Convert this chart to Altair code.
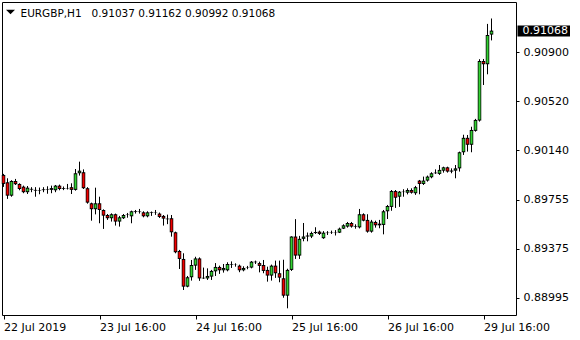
import altair as alt
import pandas as pd

symbol = "EURGBP,H1"
header_values = "0.91037 0.91162 0.90992 0.91068"
last_price = [0.91068]

opens = [0.89948, 0.89891, 0.89787, 0.89901, 0.89878, 0.89857, 0.89814, 0.89834, 0.89832, 0.89826,
         0.89830, 0.89836, 0.89832, 0.89829, 0.89865, 0.89839, 0.89845, 0.89853, 0.89832, 0.89961,
         0.89969, 0.89845, 0.89728, 0.89682, 0.89728, 0.89676, 0.89637, 0.89612, 0.89643, 0.89586,
         0.89612, 0.89637, 0.89627, 0.89666, 0.89660, 0.89658, 0.89627, 0.89658, 0.89653, 0.89648,
         0.89630, 0.89609, 0.89612, 0.89503, 0.89358, 0.89296, 0.89081, 0.89154, 0.89244, 0.89300,
         0.89145, 0.89145, 0.89159, 0.89200, 0.89234, 0.89208, 0.89208, 0.89257, 0.89252, 0.89244,
         0.89208, 0.89226, 0.89229, 0.89275, 0.89264, 0.89249, 0.89211, 0.89167, 0.89244, 0.89185,
         0.89146, 0.89011, 0.89211, 0.89470, 0.89322, 0.89452, 0.89470, 0.89470, 0.89497, 0.89508,
         0.89457, 0.89497, 0.89500, 0.89500, 0.89500, 0.89531, 0.89547, 0.89575, 0.89547, 0.89541,
         0.89643, 0.89599, 0.89508, 0.89583, 0.89557, 0.89560, 0.89666, 0.89700, 0.89823, 0.89779,
         0.89818, 0.89810, 0.89831, 0.89806, 0.89904, 0.89878, 0.89904, 0.89930, 0.89961, 0.89956,
         0.89981, 0.90007, 0.89974, 0.89981, 0.89999, 0.90124, 0.90236, 0.90182, 0.90290, 0.90370,
         0.90832, 0.90807, 0.91037]
highs = [0.89956, 0.89922, 0.89907, 0.89917, 0.89883, 0.89865, 0.89862, 0.89853, 0.89853, 0.89850,
         0.89853, 0.89860, 0.89865, 0.89870, 0.89873, 0.89858, 0.89878, 0.89883, 0.89994, 0.90051,
         0.89991, 0.89853, 0.89733, 0.89849, 0.89779, 0.89681, 0.89645, 0.89650, 0.89648, 0.89630,
         0.89645, 0.89653, 0.89671, 0.89676, 0.89684, 0.89666, 0.89666, 0.89664, 0.89676, 0.89656,
         0.89637, 0.89640, 0.89637, 0.89508, 0.89366, 0.89340, 0.89164, 0.89288, 0.89313, 0.89308,
         0.89229, 0.89223, 0.89211, 0.89264, 0.89244, 0.89257, 0.89270, 0.89277, 0.89262, 0.89252,
         0.89239, 0.89242, 0.89280, 0.89283, 0.89275, 0.89288, 0.89236, 0.89252, 0.89283, 0.89283,
         0.89290, 0.89220, 0.89472, 0.89605, 0.89475, 0.89575, 0.89501, 0.89508, 0.89542, 0.89516,
         0.89512, 0.89512, 0.89516, 0.89520, 0.89539, 0.89565, 0.89583, 0.89583, 0.89565, 0.89684,
         0.89650, 0.89643, 0.89599, 0.89593, 0.89599, 0.89676, 0.89715, 0.89831, 0.89831, 0.89823,
         0.89837, 0.89844, 0.89844, 0.89863, 0.89909, 0.89935, 0.89943, 0.89969, 0.89991, 0.90025,
         0.90012, 0.90012, 0.89999, 0.90025, 0.90129, 0.90260, 0.90258, 0.90322, 0.90383, 0.90846,
         0.90848, 0.91120, 0.91162]
lows = [0.89855, 0.89762, 0.89779, 0.89870, 0.89829, 0.89806, 0.89800, 0.89814, 0.89779, 0.89798,
        0.89814, 0.89802, 0.89806, 0.89814, 0.89829, 0.89830, 0.89835, 0.89800, 0.89826, 0.89943,
        0.89839, 0.89725, 0.89593, 0.89642, 0.89573, 0.89529, 0.89599, 0.89586, 0.89555, 0.89547,
        0.89606, 0.89616, 0.89573, 0.89648, 0.89648, 0.89619, 0.89619, 0.89630, 0.89638, 0.89614,
        0.89555, 0.89566, 0.89469, 0.89340, 0.89218, 0.89055, 0.89076, 0.89128, 0.89211, 0.89126,
        0.89141, 0.89133, 0.89133, 0.89164, 0.89180, 0.89190, 0.89200, 0.89226, 0.89236, 0.89193,
        0.89200, 0.89216, 0.89223, 0.89257, 0.89192, 0.89185, 0.89120, 0.89128, 0.89149, 0.89115,
        0.88995, 0.88913, 0.89203, 0.89296, 0.89296, 0.89433, 0.89433, 0.89458, 0.89490, 0.89482,
        0.89452, 0.89482, 0.89490, 0.89478, 0.89497, 0.89528, 0.89539, 0.89539, 0.89531, 0.89533,
        0.89588, 0.89500, 0.89500, 0.89539, 0.89534, 0.89487, 0.89606, 0.89670, 0.89692, 0.89700,
        0.89779, 0.89797, 0.89803, 0.89793, 0.89798, 0.89870, 0.89896, 0.89922, 0.89956, 0.89948,
        0.89966, 0.89966, 0.89961, 0.89922, 0.89974, 0.90103, 0.90129, 0.90124, 0.90284, 0.90362,
        0.90646, 0.90729, 0.90992]
closes = [0.89878, 0.89787, 0.89901, 0.89876, 0.89839, 0.89814, 0.89849, 0.89840, 0.89826, 0.89830,
          0.89836, 0.89832, 0.89846, 0.89865, 0.89839, 0.89845, 0.89842, 0.89832, 0.89961, 0.89981,
          0.89845, 0.89733, 0.89682, 0.89728, 0.89676, 0.89632, 0.89612, 0.89643, 0.89586, 0.89619,
          0.89637, 0.89640, 0.89666, 0.89660, 0.89664, 0.89627, 0.89658, 0.89653, 0.89656, 0.89622,
          0.89609, 0.89604, 0.89503, 0.89348, 0.89296, 0.89081, 0.89154, 0.89249, 0.89300, 0.89145,
          0.89150, 0.89164, 0.89203, 0.89234, 0.89208, 0.89226, 0.89257, 0.89252, 0.89250, 0.89208,
          0.89226, 0.89229, 0.89275, 0.89270, 0.89242, 0.89203, 0.89167, 0.89244, 0.89185, 0.89151,
          0.89011, 0.89211, 0.89470, 0.89322, 0.89452, 0.89470, 0.89478, 0.89497, 0.89505, 0.89490,
          0.89500, 0.89500, 0.89503, 0.89497, 0.89531, 0.89557, 0.89575, 0.89547, 0.89552, 0.89643,
          0.89593, 0.89508, 0.89586, 0.89557, 0.89570, 0.89666, 0.89707, 0.89823, 0.89771, 0.89818,
          0.89815, 0.89831, 0.89810, 0.89853, 0.89878, 0.89904, 0.89935, 0.89961, 0.89966, 0.89987,
          0.90007, 0.89974, 0.89982, 0.89999, 0.90124, 0.90236, 0.90182, 0.90297, 0.90375, 0.90832,
          0.90807, 0.91034, 0.91068]

ytick_values = [0.90900, 0.90520, 0.90140, 0.89755, 0.89375, 0.88995]
xtick_bars = [0, 24, 48, 72, 96, 120]
xtick_labels = ["22 Jul 2019", "23 Jul 16:00", "24 Jul 16:00", "25 Jul 16:00", "26 Jul 16:00", "29 Jul 16:00"]

GREEN = "#32D232"
RED = "#F00000"
FONT = "DejaVu Sans"

df = pd.DataFrame({
    "bar": list(range(len(opens))),
    "open": opens, "high": highs, "low": lows, "close": closes,
})

xscale = alt.Scale(domain=[-0.375, 128.125], nice=False, zero=False, padding=0)
yscale = alt.Scale(domain=[0.88861, 0.91290], nice=False, zero=False, padding=0)

label_expr = ("[" + ",".join("'" + t + "'" for t in xtick_labels) + "][indexof(["
              + ",".join(str(b) for b in xtick_bars) + "], datum.value)]")

xaxis = alt.Axis(values=xtick_bars, labelExpr=label_expr, title=None, grid=False, domain=False,
                 tickSize=4, tickColor="black", labelAlign="left", labelBaseline="top",
                 labelPadding=2, labelFont=FONT, labelFontSize=11, labelColor="black",
                 labelOverlap=False, labelFlush=False)
yaxis = alt.Axis(values=ytick_values, format=".5f", orient="right", title=None, grid=False,
                 domain=False, tickSize=3, tickColor="black", labelPadding=4, labelFont=FONT,
                 labelFontSize=11, labelColor="black", labelOverlap=False, labelFlush=False)

base = alt.Chart(df)

wicks = base.mark_rule(color="black", strokeWidth=1).encode(
    x=alt.X("bar:Q", scale=xscale, axis=xaxis),
    y=alt.Y("low:Q", scale=yscale, axis=yaxis),
    y2="high:Q",
)

# candle body: black box with a coloured core
body_outline = base.mark_bar(size=3.5, color="black").encode(
    x=alt.X("bar:Q", scale=xscale, title=None),
    y=alt.Y("open:Q", scale=yscale, title=None),
    y2="close:Q",
)
body_core = base.mark_bar(size=2, yOffset=1, y2Offset=-1).encode(
    x=alt.X("bar:Q", scale=xscale, title=None),
    y=alt.Y("hi_body:Q", scale=yscale, title=None),
    y2="lo_body:Q",
    color=alt.condition("datum.close >= datum.open", alt.value(GREEN), alt.value(RED)),
).transform_calculate(
    hi_body="max(datum.open, datum.close)", lo_body="min(datum.open, datum.close)"
).transform_filter("abs(datum.close - datum.open) > 0.00015")

last_df = pd.DataFrame({"price": last_price, "label": ["%.5f" % last_price[0]]})
price_box = alt.Chart(last_df).mark_rect(color="black", yOffset=-5, y2Offset=6).encode(
    x=alt.value(515.5), x2=alt.value(568),
    y=alt.Y("price:Q", scale=yscale, title=None),
    y2="price:Q",
)
price_text = alt.Chart(last_df).mark_text(
    color="white", font=FONT, fontSize=11, align="left", baseline="middle", dy=0.5
).encode(
    x=alt.value(520.5),
    y=alt.Y("price:Q", scale=yscale, title=None),
    text="label:N",
)

head_df = pd.DataFrame({"sym": [symbol], "vals": [header_values]})
tri = alt.Chart(head_df).mark_point(
    shape="M-1,-0.5L1,-0.5L0,0.5Z", filled=True, color="black", size=81, opacity=1
).encode(x=alt.value(8.5), y=alt.value(10))
sym_text = alt.Chart(head_df).mark_text(
    font=FONT, fontSize=10.5, align="left", baseline="alphabetic", color="black"
).encode(x=alt.value(18.5), y=alt.value(14.5), text="sym:N")
val_text = alt.Chart(head_df).mark_text(
    font=FONT, fontSize=10.5, align="left", baseline="alphabetic", color="black"
).encode(x=alt.value(89.5), y=alt.value(14.5), text="vals:N")

chart = alt.layer(wicks, body_outline, body_core, price_box, price_text, tri, sym_text, val_text).properties(
    width=514, height=313,
    autosize=alt.AutoSizeParams(type="none"),
    padding={"left": 2, "top": 2, "right": 64, "bottom": 25},
    background="white",
).configure_view(stroke="black", strokeWidth=1)

chart.save("out.html", embed_options={"renderer": "svg", "actions": False})
